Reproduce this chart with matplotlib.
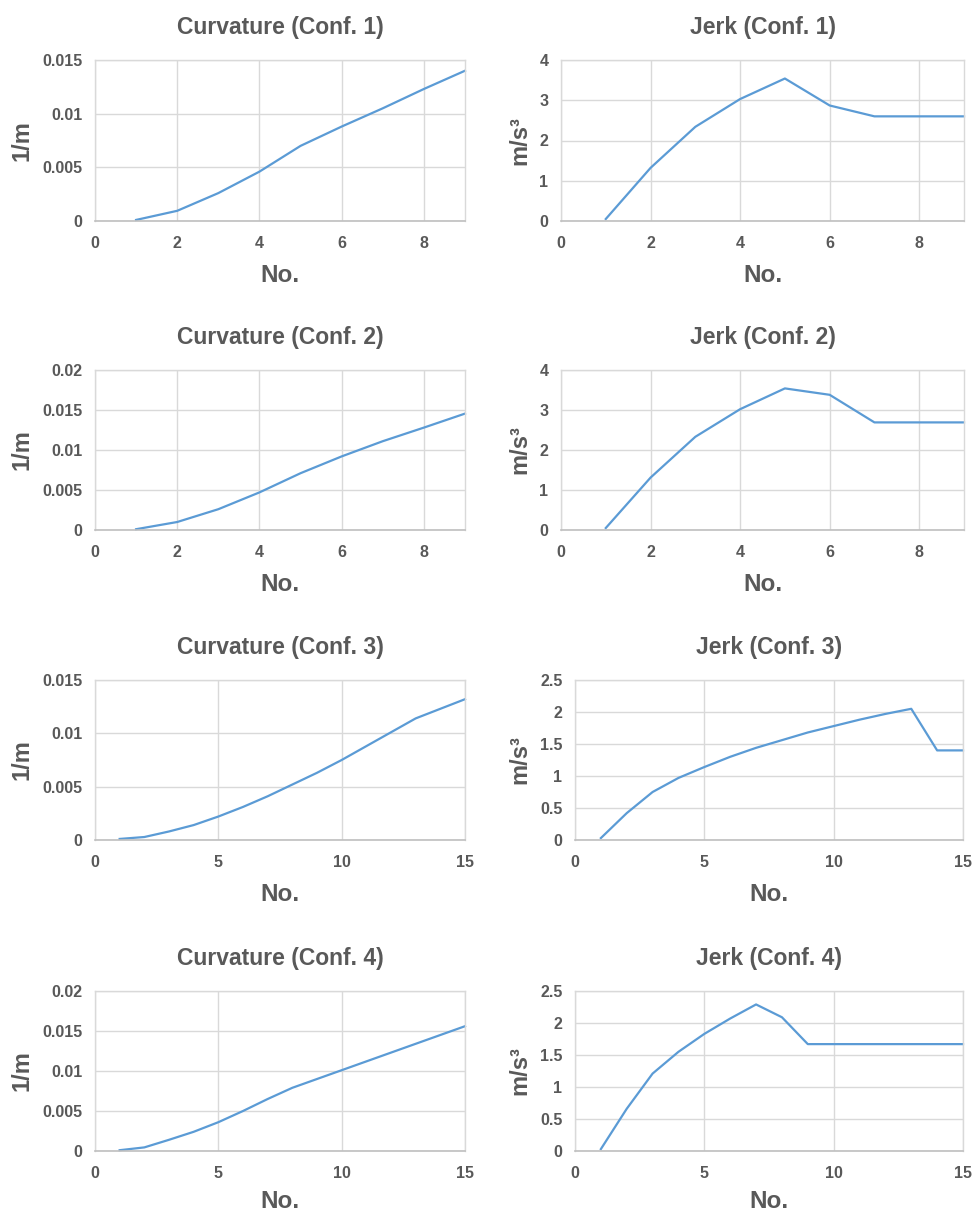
import matplotlib
matplotlib.use("Agg")
import matplotlib.pyplot as plt

plt.rcParams['font.family'] = ['Liberation Sans', 'DejaVu Sans']

# ---- data ----
x_short = [1, 2, 3, 4, 5, 6, 7, 8, 9]
x_long = [1, 2, 3, 4, 5, 6, 7, 8, 9, 10, 11, 12, 13, 14, 15]

curv1 = [0.0001, 0.00095, 0.0026, 0.0046, 0.0070, 0.0088, 0.0105, 0.0123, 0.0140]
jerk1 = [0.05, 1.32, 2.34, 3.03, 3.54, 2.87, 2.60, 2.60, 2.60]

curv2 = [0.0001, 0.0010, 0.0026, 0.0047, 0.0071, 0.0092, 0.0111, 0.0128, 0.01455]
jerk2 = [0.05, 1.31, 2.33, 3.02, 3.54, 3.38, 2.69, 2.69, 2.69]

curv3 = [0.0001, 0.00028, 0.0008, 0.0014, 0.0022, 0.0031, 0.0041, 0.0052, 0.0063,
         0.0075, 0.0088, 0.0101, 0.0114, 0.0123, 0.0132]
jerk3 = [0.03, 0.42, 0.75, 0.97, 1.14, 1.30, 1.44, 1.56, 1.68, 1.78, 1.88, 1.97,
         2.05, 1.40, 1.40]

curv4 = [0.0001, 0.00045, 0.0014, 0.0024, 0.0036, 0.0050, 0.0065, 0.0079, 0.0090,
         0.0101, 0.0112, 0.0123, 0.0134, 0.0145, 0.0156]
jerk4 = [0.03, 0.66, 1.21, 1.55, 1.83, 2.07, 2.29, 2.09, 1.67, 1.67, 1.67, 1.67,
         1.67, 1.67, 1.67]

titles = ["Curvature (Conf. 1)", "Jerk (Conf. 1)",
          "Curvature (Conf. 2)", "Jerk (Conf. 2)",
          "Curvature (Conf. 3)", "Jerk (Conf. 3)",
          "Curvature (Conf. 4)", "Jerk (Conf. 4)"]

curv_yticks_a = [0, 0.005, 0.01, 0.015]
curv_ytick_labels_a = ["0", "0.005", "0.01", "0.015"]
curv_yticks_b = [0, 0.005, 0.01, 0.015, 0.02]
curv_ytick_labels_b = ["0", "0.005", "0.01", "0.015", "0.02"]
jerk_yticks_a = [0, 1, 2, 3, 4]
jerk_ytick_labels_a = ["0", "1", "2", "3", "4"]
jerk_yticks_b = [0, 0.5, 1, 1.5, 2, 2.5]
jerk_ytick_labels_b = ["0", "0.5", "1", "1.5", "2", "2.5"]
xticks_short = [0, 2, 4, 6, 8]
xticks_long = [0, 5, 10, 15]

panels = [
    (x_short, curv1, curv_yticks_a, curv_ytick_labels_a, xticks_short, 9, "1/m"),
    (x_short, jerk1, jerk_yticks_a, jerk_ytick_labels_a, xticks_short, 9, "m/s³"),
    (x_short, curv2, curv_yticks_b, curv_ytick_labels_b, xticks_short, 9, "1/m"),
    (x_short, jerk2, jerk_yticks_a, jerk_ytick_labels_a, xticks_short, 9, "m/s³"),
    (x_long, curv3, curv_yticks_a, curv_ytick_labels_a, xticks_long, 15, "1/m"),
    (x_long, jerk3, jerk_yticks_b, jerk_ytick_labels_b, xticks_long, 15, "m/s³"),
    (x_long, curv4, curv_yticks_b, curv_ytick_labels_b, xticks_long, 15, "1/m"),
    (x_long, jerk4, jerk_yticks_b, jerk_ytick_labels_b, xticks_long, 15, "m/s³"),
]

# ---- layout (pixels) ----
W, H = 974, 1215
boxes = [
    (95, 60, 465, 221), (561, 60, 964, 221),
    (95, 370, 465, 530), (561, 370, 964, 530),
    (95, 680, 465, 840), (575, 680, 963, 840),
    (95, 991, 465, 1151), (575, 991, 963, 1151),
]
# right edge (after rotation) of the y-label, in pixels
ylabel_px = [34, 531, 34, 531, 34, 531, 34, 531]
xlabel_pad = [9, 9, 9, 9, 9, 9, 6, 6]

LINE = "#5B9BD5"
GRID = "#D9D9D9"
TXT = "#595959"

fig = plt.figure(figsize=(W / 100, H / 100), dpi=100)
fig.patch.set_facecolor("white")

for i, (box, pan, title) in enumerate(zip(boxes, panels, titles)):
    l, t, r, b = box
    ax = fig.add_axes([l / W, 1 - b / H, (r - l) / W, (b - t) / H])
    xs, ys, yt, ytl, xt, xmax, ylab = pan
    ax.plot(xs, ys, color=LINE, lw=1.6, solid_joinstyle="round", clip_on=False)
    ax.set_xlim(0, xmax)
    ax.set_ylim(yt[0], yt[-1])
    ax.set_yticks(yt)
    ax.set_yticklabels(ytl)
    ax.set_xticks(xt)
    ax.set_xticklabels([str(v) for v in xt])
    ax.grid(True, color=GRID, lw=1.0)
    ax.set_axisbelow(True)
    for s in ["top", "left", "right"]:
        ax.spines[s].set_color(GRID)
        ax.spines[s].set_linewidth(1.0)
    ax.spines["bottom"].set_color("#BFBFBF")
    ax.spines["bottom"].set_linewidth(1.2)
    ax.tick_params(axis="x", length=0, labelsize=11.5, labelcolor=TXT, pad=11)
    ax.tick_params(axis="y", length=0, labelsize=11.5, labelcolor=TXT, pad=9)
    for lab in ax.get_xticklabels() + ax.get_yticklabels():
        lab.set_fontweight("bold")
    ax.set_title(title, fontsize=16.5, fontweight="bold", color=TXT, pad=19)
    ax.set_xlabel("No.", fontsize=17.5, fontweight="bold", color=TXT,
                  labelpad=xlabel_pad[i])
    ax.set_ylabel(ylab, fontsize=17, fontweight="bold", color=TXT)
    ax.yaxis.set_label_coords((ylabel_px[i] - l) / (r - l), 0.5)

fig.savefig("out.png", dpi=100, facecolor="white")
